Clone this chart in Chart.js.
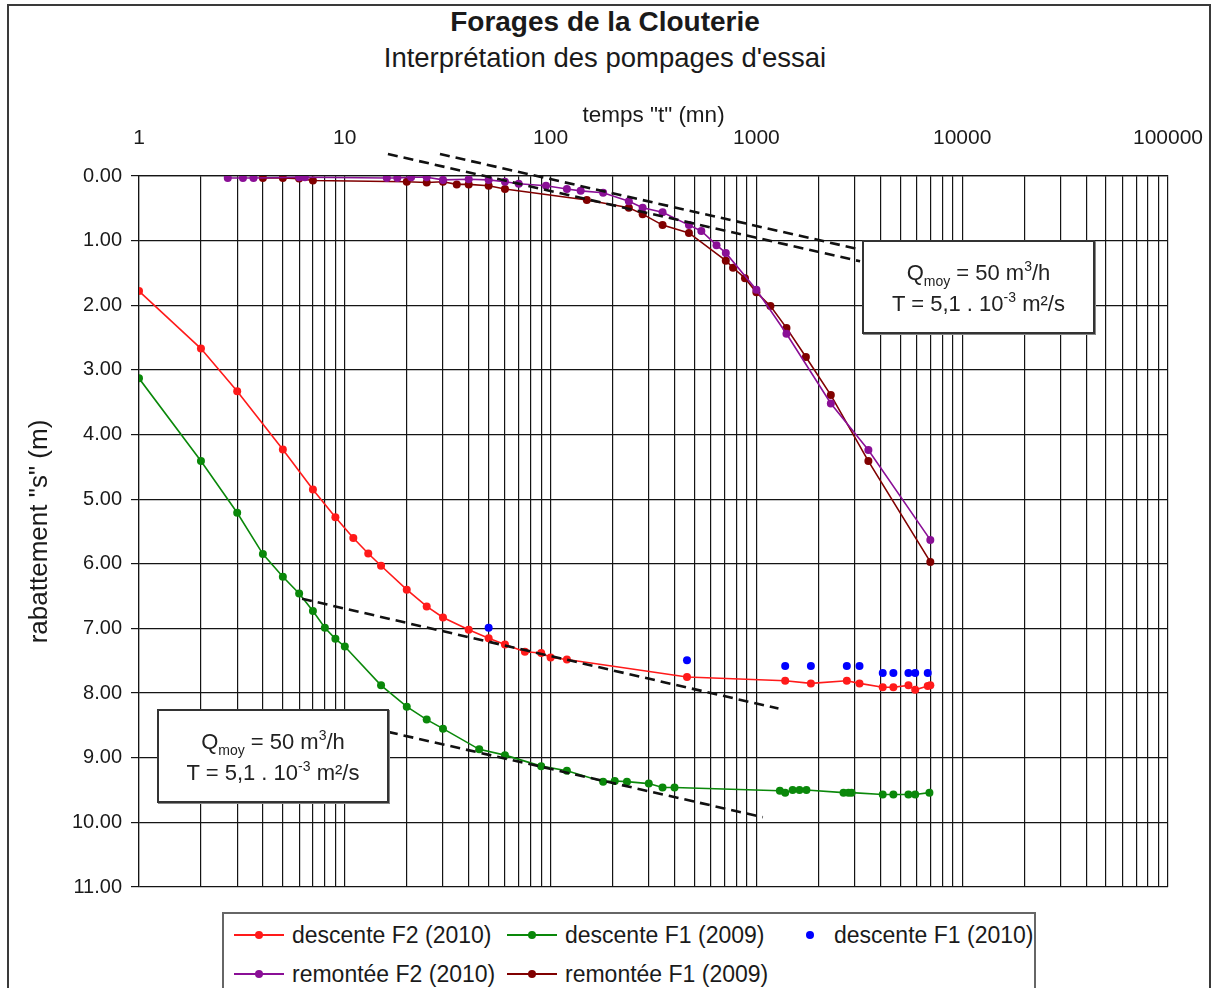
<!DOCTYPE html>
<html>
<head>
<meta charset="utf-8">
<script src="https://cdn.jsdelivr.net/npm/chart.js@4.4.1/dist/chart.umd.min.js"></script>
<style>
html,body{margin:0;padding:0;background:#fff;}
body{width:1216px;height:988px;position:relative;overflow:hidden;font-family:"Liberation Sans",Arial,sans-serif;color:#1a1a1a;}
#frame{position:absolute;left:7px;top:4px;width:1204px;height:1010px;border:2px solid #3a3a3a;box-sizing:border-box;}
#title{position:absolute;left:0;width:1210px;top:6px;line-height:32px;text-align:center;font-weight:bold;font-size:28px;color:#1a1a1a;}
#subtitle{position:absolute;left:0;width:1210px;top:42px;line-height:32px;text-align:center;font-size:27.5px;color:#1a1a1a;}
#c{position:absolute;left:0;top:0;}
.note{position:absolute;background:#fff;border:2px solid #333;box-shadow:1px 1px 0 #888;box-sizing:border-box;text-align:center;font-size:22px;line-height:31px;padding-top:15px;color:#222;}
.note sub{font-size:14px;vertical-align:-6px;line-height:0;}
.note sup{font-size:14px;vertical-align:9px;line-height:0;}
#legend{position:absolute;left:222px;top:912px;width:814px;height:100px;border:2px solid #666;box-sizing:border-box;background:#fff;}
.lg{position:absolute;font-size:23px;line-height:26px;color:#1a1a1a;white-space:nowrap;}
.mk{position:absolute;height:2px;}
.dt{position:absolute;width:8px;height:8px;border-radius:50%;}
</style>
</head>
<body>
<div id="frame"></div>
<div id="title">Forages de la Clouterie</div>
<div id="subtitle">Interprétation des pompages d'essai</div>
<canvas id="c" width="1216" height="988"></canvas>
<div class="note" style="left:862px;top:240px;width:233px;height:94px;">Q<sub>moy</sub> = 50 m<sup>3</sup>/h<br>T = 5,1 . 10<sup>-3</sup> m²/s</div>
<div class="note" style="left:157px;top:709px;width:232px;height:94px;">Q<sub>moy</sub> = 50 m<sup>3</sup>/h<br>T = 5,1 . 10<sup>-3</sup> m²/s</div>
<div id="legend"></div>
<script>
// ---- axis tick labels ----
const xTickLabels = ['1', '10', '100', '1000', '10000', '100000'];
const yTickLabels = ['0.00', '1.00', '2.00', '3.00', '4.00', '5.00', '6.00', '7.00', '8.00', '9.00', '10.00', '11.00'];

// ---- descente F2 (2010) ----
const descF2_2010_t = [1, 2, 3, 5, 7, 9, 11, 13, 15, 20, 25, 30, 40, 50, 60, 75, 90, 100, 120, 460, 1380, 1840, 2750, 3170, 4110, 4630, 5480, 5910, 6800, 7000];
const descF2_2010_s = [1.78, 2.67, 3.33, 4.23, 4.85, 5.28, 5.60, 5.84, 6.03, 6.40, 6.66, 6.83, 7.02, 7.15, 7.25, 7.36, 7.38, 7.45, 7.48, 7.75, 7.81, 7.85, 7.81, 7.85, 7.91, 7.91, 7.88, 7.95, 7.89, 7.88];

// ---- descente F1 (2009) ----
const descF1_2009_t = [1, 2, 3, 4, 5, 6, 7, 8, 9, 10, 15, 20, 25, 30, 45, 60, 90, 120, 180, 205, 235, 300, 350, 400, 1300, 1380, 1500, 1620, 1750, 2650, 2800, 2900, 4110, 4630, 5480, 5910, 6930];
const descF1_2009_s = [3.13, 4.41, 5.21, 5.85, 6.20, 6.46, 6.73, 6.99, 7.16, 7.28, 7.88, 8.21, 8.41, 8.55, 8.87, 8.96, 9.13, 9.20, 9.37, 9.36, 9.37, 9.40, 9.46, 9.46, 9.51, 9.54, 9.50, 9.50, 9.50, 9.54, 9.54, 9.54, 9.57, 9.57, 9.57, 9.57, 9.54];

// ---- descente F1 (2010) ----
const descF1_2010_t = [50, 460, 1380, 1840, 2750, 3170, 4110, 4630, 5480, 5910, 6800];
const descF1_2010_s = [6.99, 7.49, 7.58, 7.58, 7.58, 7.58, 7.69, 7.69, 7.69, 7.69, 7.69];

// ---- remontée F2 (2010) ----
const remF2_2010_t = [2.7, 3.2, 3.6, 6, 6.4, 16, 18, 21, 25, 30, 40, 50, 60, 70, 95, 120, 140, 180, 240, 280, 350, 470, 540, 640, 710, 1000, 1400, 2300, 3500, 7000];
const remF2_2010_s = [0.03, 0.03, 0.03, 0.02, 0.02, 0.03, 0.03, 0.02, 0.02, 0.06, 0.05, 0.06, 0.09, 0.12, 0.15, 0.20, 0.23, 0.26, 0.39, 0.49, 0.56, 0.76, 0.85, 1.07, 1.19, 1.76, 2.44, 3.52, 4.24, 5.63];

// ---- remontée F1 (2009) ----
const remF1_2009_t = [4, 5, 6, 7, 20, 25, 30, 35, 40, 50, 60, 150, 240, 280, 350, 470, 710, 770, 880, 1000, 1170, 1400, 1740, 2300, 3500, 7000];
const remF1_2009_s = [0.03, 0.03, 0.04, 0.07, 0.09, 0.10, 0.09, 0.13, 0.13, 0.15, 0.20, 0.37, 0.49, 0.59, 0.76, 0.88, 1.31, 1.42, 1.58, 1.80, 2.01, 2.35, 2.80, 3.39, 4.41, 5.97];

// ---- dashed interpretation lines (Jacob straight lines) ----
const guideA_t = [16.2, 3190]; const guideA_s = [-0.34, 1.32];
const guideB_t = [29, 3120];   const guideB_s = [-0.34, 1.13];
const guideC_t = [6.2, 1280];  const guideC_s = [6.54, 8.24];
const guideD_t = [16.2, 1075]; const guideD_s = [8.60, 9.92];

function pts(t, s) { return t.map((v, i) => ({x: v, y: s[i]})); }

const decadeValues = xTickLabels.map(Number);
const xGridValues = [];
decadeValues.forEach((d, i) => {
  if (i < decadeValues.length - 1) { for (let k = 1; k < 10; k++) xGridValues.push(d * k); }
  else xGridValues.push(d);
});

function series(label, t, s, color, showLine) {
  return {
    label, data: pts(t, s), showLine: showLine,
    borderColor: color, backgroundColor: color,
    pointBackgroundColor: color, pointBorderColor: color,
    borderWidth: 1.6, pointRadius: 4, pointBorderWidth: 0, pointHoverRadius: 4,
    tension: 0, order: 1, inLegend: true
  };
}
function guide(t, s) {
  return {
    label: '', data: pts(t, s), showLine: true,
    borderColor: '#111', borderWidth: 2.6, borderDash: [10, 6],
    pointRadius: 0, pointHoverRadius: 0, clip: false, order: 0, inLegend: false
  };
}

const datasets = [
  series('descente F2 (2010)', descF2_2010_t, descF2_2010_s, '#ff1a1a', true),
  series('descente F1 (2009)', descF1_2009_t, descF1_2009_s, '#0a880a', true),
  series('descente F1 (2010)', descF1_2010_t, descF1_2010_s, '#0000ff', false),
  series('remontée F2 (2010)', remF2_2010_t, remF2_2010_s, '#8a0f96', true),
  series('remontée F1 (2009)', remF1_2009_t, remF1_2009_s, '#800000', true),
  guide(guideA_t, guideA_s),
  guide(guideB_t, guideB_s),
  guide(guideC_t, guideC_s),
  guide(guideD_t, guideD_s)
];

Chart.defaults.font.family = '"Liberation Sans", Arial, sans-serif';
Chart.defaults.color = '#1a1a1a';

const chart = new Chart(document.getElementById('c'), {
  type: 'scatter',
  data: {datasets},
  options: {
    responsive: false,
    animation: false,
    layout: {padding: {top: 0, left: 0, right: 48, bottom: 101}},
    plugins: {legend: {display: false}, tooltip: {enabled: false}},
    scales: {
      x: {
        type: 'logarithmic', position: 'top', min: 1, max: 100000,
        afterBuildTicks: s => { s.ticks = xGridValues.map(v => ({value: v})); },
        afterFit: s => { s.height = 176; s.paddingLeft = 0; s.paddingRight = 0; },
        ticks: {
          autoSkip: false, maxRotation: 0, minRotation: 0, padding: 25,
          font: {size: 21}, color: '#1a1a1a',
          callback: v => { const i = decadeValues.indexOf(v); return i >= 0 ? xTickLabels[i] : ''; }
        },
        grid: {color: '#141414', lineWidth: 1.2, drawTicks: false},
        border: {color: '#141414', width: 1.2},
        title: {display: true, text: 'temps "t" (mn)', font: {size: 22.5}, color: '#1a1a1a', padding: {top: 102, bottom: 0}}
      },
      y: {
        type: 'linear', reverse: true, min: 0, max: 11,
        afterBuildTicks: s => { s.ticks = yTickLabels.map(l => ({value: parseFloat(l)})); },
        afterFit: s => { s.width = 139; s.paddingTop = 0; s.paddingBottom = 0; },
        ticks: {
          padding: 9, font: {size: 20}, color: '#1a1a1a',
          callback: v => { const i = yTickLabels.findIndex(l => parseFloat(l) === v); return i >= 0 ? yTickLabels[i] : ''; }
        },
        grid: {color: '#141414', lineWidth: 1.2, drawTicks: true, tickLength: 8, tickColor: '#141414'},
        border: {color: '#141414', width: 1.2},
        title: {display: true, text: 'rabattement "s" (m)', font: {size: 26}, color: '#1a1a1a', padding: {top: 24, bottom: 0}}
      }
    }
  }
});

// ---- HTML legend built from the chart's datasets ----
(function buildLegend() {
  const lg = document.getElementById('legend');
  const items = chart.data.datasets.filter(d => d.inLegend);
  const cols = [10, 283, 561];
  const rows = [21, 60];
  items.forEach((d, i) => {
    const col = cols[i % 3], row = rows[Math.floor(i / 3)];
    if (d.showLine) {
      const ln = document.createElement('div');
      ln.className = 'mk';
      ln.style.cssText = `left:${col}px;top:${row - 1}px;width:50px;background:${d.borderColor};`;
      lg.appendChild(ln);
    }
    const dt = document.createElement('div');
    dt.className = 'dt';
    dt.style.cssText = `left:${col + 21}px;top:${row - 4}px;background:${d.borderColor};`;
    lg.appendChild(dt);
    const tx = document.createElement('div');
    tx.className = 'lg';
    tx.textContent = d.label;
    tx.style.cssText = `left:${col + (d.showLine ? 58 : 49)}px;top:${row - 13}px;`;
    lg.appendChild(tx);
  });
})();
</script>
</body>
</html>
